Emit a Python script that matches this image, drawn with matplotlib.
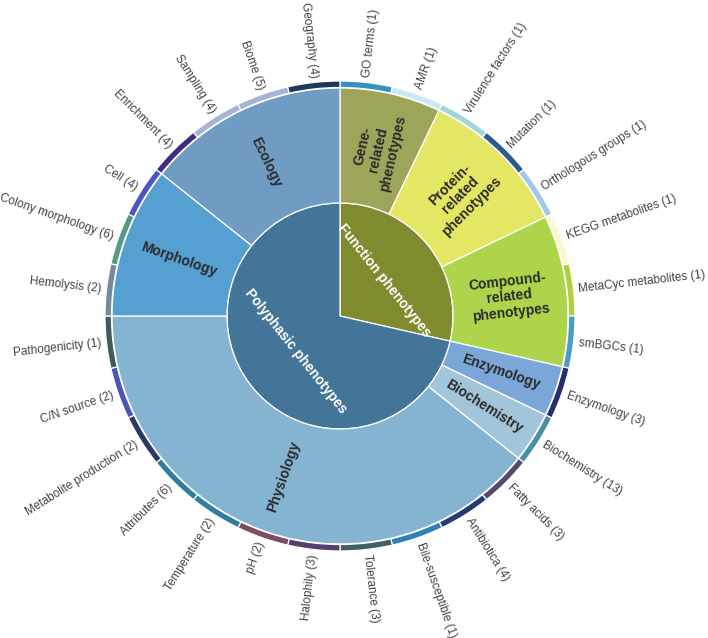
import numpy as np
import matplotlib
matplotlib.use('Agg')
import matplotlib.pyplot as plt

plt.rcParams['font.family'] = ['Liberation Sans', 'DejaVu Sans']

# inner ring
groups = ['Function phenotypes', 'Polyphasic phenotypes']
group_colors = ['#7f8b2e', '#437598']

# middle ring
categories = ['Gene-\nrelated\nphenotypes', 'Protein-\nrelated\nphenotypes',
              'Compound-\nrelated\nphenotypes', 'Enzymology', 'Biochemistry',
              'Physiology', 'Morphology', 'Ecology']
category_group = ['Function phenotypes'] * 3 + ['Polyphasic phenotypes'] * 5
category_colors = ['#9fa45b', '#e4e763', '#add44a', '#7aa6d8', '#a3c5da',
                   '#84b4d2', '#55a0d1', '#709bc3']

# outer ring (every leaf has the same angular size in the reference)
leaf_labels = ['GO terms (1)', 'AMR (1)', 'Virulence factors (1)', 'Mutation (1)',
               'Orthologous groups (1)', 'KEGG metabolites (1)', 'MetaCyc metabolites (1)',
               'smBGCs (1)', 'Enzymology (3)', 'Biochemistry (13)', 'Fatty acids (3)',
               'Antibiotica (4)', 'Bile-susceptible (1)', 'Tolerance (3)', 'Halophily (3)',
               'pH (2)', 'Temperature (2)', 'Attributes (6)', 'Metabolite production (2)',
               'C/N source (2)', 'Pathogenicity (1)', 'Hemolysis (2)',
               'Colony morphology (6)', 'Cell (4)', 'Enrichment (4)', 'Sampling (4)',
               'Biome (5)', 'Geography (4)']
leaf_category = [0, 0, 1, 1, 1, 2, 2, 2, 3, 4, 5, 5, 5, 5, 5, 5, 5, 5, 5, 5, 5,
                 6, 6, 6, 7, 7, 7, 7]
leaf_sizes = [1, 1, 1, 1, 1, 1, 1, 1, 1, 1, 1, 1, 1, 1, 1, 1, 1, 1, 1, 1, 1,
              1, 1, 1, 1, 1, 1, 1]
leaf_colors = ['#3592c1', '#c8e9f1', '#a2d5d7', '#2c5a8c', '#a0c8ea', '#fbf7cf',
               '#a9d23c', '#4a9bc6', '#242f6b', '#4c8ea5', '#57496f', '#283a73',
               '#2f82b6', '#3f6163', '#553f6c', '#7c4b64', '#2e7f9f', '#2f7f9c',
               '#2c3868', '#4d56b8', '#3f5c5a', '#74899b', '#539c84', '#4d55c0',
               '#3f2b81', '#a5b4d4', '#a5b4d4', '#1d3a5b']

leaf_sizes = np.array(leaf_sizes, dtype=float)
leaf_category = np.array(leaf_category)
cat_sizes = np.array([leaf_sizes[leaf_category == i].sum() for i in range(len(categories))])
group_sizes = np.array([sum(cat_sizes[i] for i in range(len(categories)) if category_group[i] == g)
                        for g in groups])

fig = plt.figure(figsize=(7.08, 6.38), dpi=100)
ax = fig.add_axes([0, 0, 1, 1])

cx, cy = 340, 322
r_in, r_mid, r_out = 113, 228, 235
wp = dict(edgecolor='white', linewidth=0.9)

ax.pie(group_sizes, colors=group_colors, radius=r_in, center=(cx, cy),
       startangle=90, counterclock=False, wedgeprops=wp)
ax.pie(cat_sizes, colors=category_colors, radius=r_mid, center=(cx, cy),
       startangle=90, counterclock=False, wedgeprops=dict(width=r_mid - r_in, **wp))
ax.pie(leaf_sizes, colors=leaf_colors, radius=r_out, center=(cx, cy),
       startangle=90, counterclock=False, wedgeprops=dict(width=r_out - r_mid - 0.5, **wp))


def mid_angles(sizes):
    sizes = np.asarray(sizes, dtype=float)
    cum = np.cumsum(sizes) - sizes / 2
    return 90 - 360 * cum / sizes.sum()


# leaf labels outside, radial
for lab, th in zip(leaf_labels, mid_angles(leaf_sizes)):
    t = np.deg2rad(th)
    x, y = cx + 240 * np.cos(t), cy + 240 * np.sin(t)
    if np.cos(t) >= 0:
        rot, ha = th, 'left'
    else:
        rot, ha = th + 180, 'right'
    ax.text(x, y, lab, rotation=rot, rotation_mode='anchor', ha=ha, va='center',
            fontsize=8.5, color='#444444')

# category labels, radial, centred in the ring
for lab, th in zip(categories, mid_angles(cat_sizes)):
    t = np.deg2rad(th)
    r = (r_in + r_mid) / 2
    x, y = cx + r * np.cos(t), cy + r * np.sin(t)
    rot = th if np.cos(t) >= 0 else th + 180
    ax.text(x, y, lab, rotation=rot, rotation_mode='anchor', ha='center', va='center',
            fontsize=10, fontweight='bold', color='#2a2a2a', linespacing=1.15,
            multialignment='center')

# group labels, tangential
for lab, th in zip(groups, mid_angles(group_sizes)):
    t = np.deg2rad(th)
    x, y = cx + 57 * np.cos(t), cy + 57 * np.sin(t)
    rot = th - 90 if np.sin(t) >= 0 else th + 90
    ax.text(x, y, lab, rotation=rot, rotation_mode='anchor', ha='center', va='center',
            fontsize=10, fontweight='bold', color='white')

ax.set_xlim(0, 708)
ax.set_ylim(0, 638)
ax.set_aspect('equal')
ax.axis('off')

fig.savefig('out.png', dpi=100, facecolor='white')
